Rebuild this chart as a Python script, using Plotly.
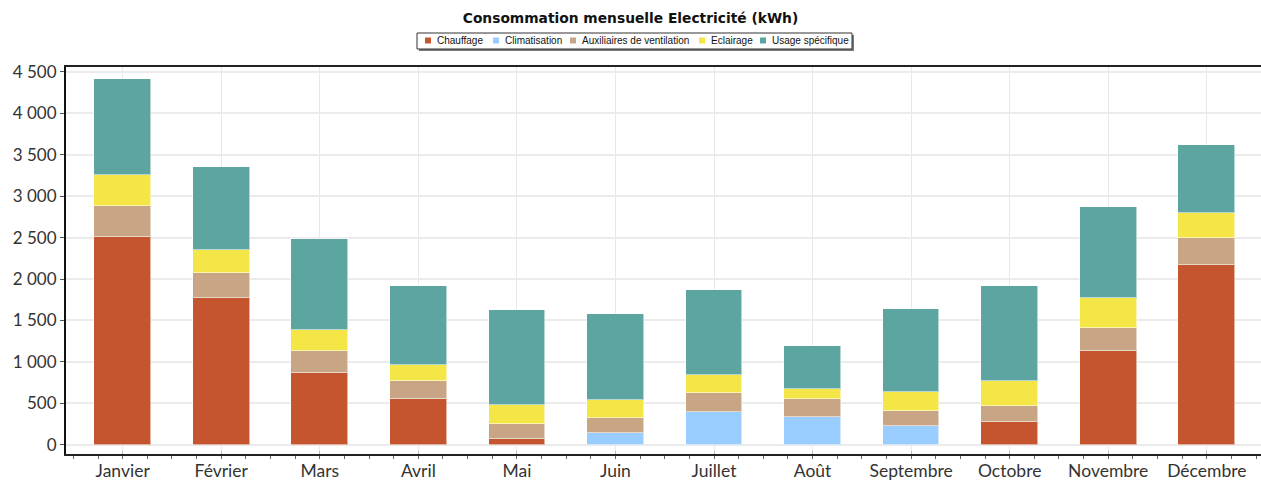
import plotly.graph_objects as go

# Monthly electricity consumption by end use (kWh)
mois = ["Janvier", "Février", "Mars", "Avril", "Mai", "Juin", "Juillet",
        "Août", "Septembre", "Octobre", "Novembre", "Décembre"]

chauffage = [2505, 1769, 865, 551, 68, 0, 0, 0, 0, 269, 1130, 2171]
climatisation = [0, 0, 0, 0, 0, 145, 398, 338, 221, 0, 0, 0]
auxiliaires = [381, 305, 265, 221, 177, 181, 225, 209, 181, 201, 281, 325]
eclairage = [370, 278, 257, 189, 234, 213, 213, 124, 233, 302, 358, 302]
usage_specifique = [1154, 997, 1097, 953, 1153, 1037, 1029, 523, 1009, 1142, 1097, 816]

series = [
    ("Chauffage", chauffage, "#C4552F"),
    ("Climatisation", climatisation, "#99CCFF"),
    ("Auxiliaires de ventilation", auxiliaires, "#C8A584"),
    ("Eclairage", eclairage, "#F5E648"),
    ("Usage spécifique", usage_specifique, "#5DA5A0"),
]

# Figure geometry (pixels)
W, H = 1261, 482
M_L, M_R, M_T, M_B = 66, 0, 67, 28
PLOT_W = W - M_L - M_R
PLOT_H = H - M_T - M_B


def px_x(px):
    """Horizontal pixel -> paper fraction."""
    return (px - M_L) / PLOT_W


def px_y(py):
    """Vertical pixel (from top) -> paper fraction."""
    return (H - M_B - py) / PLOT_H


positions = list(range(len(mois)))

fig = go.Figure()
for nom, valeurs, couleur in series:
    fig.add_trace(go.Bar(
        name=nom,
        x=positions,
        y=valeurs,
        width=0.575,
        marker=dict(color=couleur, line=dict(color="rgba(255,255,255,0.55)", width=1)),
        showlegend=False,
    ))

# Compact boxed legend above the plot, with a drop shadow
legend_box = (417, 33, 852, 49)
legend_symbol_x = [425, 493, 570, 699, 760]
legend_y = 40.5
shadow = 2

shapes = [
    dict(type="rect", xref="paper", yref="paper", layer="above",
         x0=px_x(legend_box[0] + shadow), x1=px_x(legend_box[2] + shadow),
         y0=px_y(legend_box[1] + shadow), y1=px_y(legend_box[3] + shadow),
         fillcolor="#7a7a7a", line=dict(width=0)),
    dict(type="rect", xref="paper", yref="paper", layer="above",
         x0=px_x(legend_box[0]), x1=px_x(legend_box[2]),
         y0=px_y(legend_box[1]), y1=px_y(legend_box[3]),
         fillcolor="white", line=dict(color="#333333", width=1)),
]
annotations = []
for (nom, _, couleur), sx in zip(series, legend_symbol_x):
    shapes.append(dict(
        type="rect", xref="paper", yref="paper", layer="above",
        x0=px_x(sx), x1=px_x(sx + 6),
        y0=px_y(legend_y - 3), y1=px_y(legend_y + 3),
        fillcolor=couleur, line=dict(width=0),
    ))
    annotations.append(dict(
        text=nom, xref="paper", yref="paper",
        x=px_x(sx + 10), y=px_y(legend_y + 0.5),
        xanchor="left", yanchor="middle", showarrow=False,
        font=dict(family="Liberation Sans, Arial, sans-serif", size=10, color="#111111"),
    ))

tick_font_y = dict(family="Lato, DejaVu Sans, sans-serif", size=17, color="#333333")
tick_font_x = dict(family="Lato, DejaVu Sans, sans-serif", size=17.5, color="#333333")

fig.update_layout(
    barmode="stack",
    width=W,
    height=H,
    margin=dict(l=M_L, r=M_R, t=M_T, b=M_B, autoexpand=False),
    paper_bgcolor="white",
    plot_bgcolor="white",
    separators=", ",
    title=dict(
        text="<b>Consommation mensuelle Electricité (kWh)</b>",
        font=dict(family="DejaVu Sans, Verdana, sans-serif", size=13.8, color="#111111"),
        x=0.5, xref="container", xanchor="center",
        y=1 - 18 / H, yref="container", yanchor="middle",
    ),
    shapes=shapes,
    annotations=annotations,
    showlegend=False,
    bargap=0,
)

fig.update_xaxes(
    range=[-0.575, 11.55],
    automargin=False,
    tickmode="array",
    tickvals=positions,
    ticktext=mois,
    tickfont=tick_font_x,
    showgrid=True,
    gridcolor="#e8e8e8",
    gridwidth=1,
    showline=True,
    linecolor="#222222",
    linewidth=2,
    mirror=True,
    ticks="inside",
    ticklen=3,
    tickcolor="#bbbbbb",
    minor=dict(tickmode="linear", tick0=0, dtick=0.25, ticks="outside",
               ticklen=3, tickcolor="#666666", showgrid=False),
    zeroline=False,
)

fig.update_yaxes(
    range=[-112, 4560],
    automargin=False,
    tickmode="linear",
    tick0=0,
    dtick=500,
    tickformat=",",
    tickfont=tick_font_y,
    showgrid=True,
    gridcolor="#ebebeb",
    gridwidth=1.5,
    showline=True,
    linecolor="#111111",
    linewidth=2,
    ticks="outside",
    ticklen=4,
    tickcolor="#555555",
    zeroline=False,
)

fig.write_html("out.html")
